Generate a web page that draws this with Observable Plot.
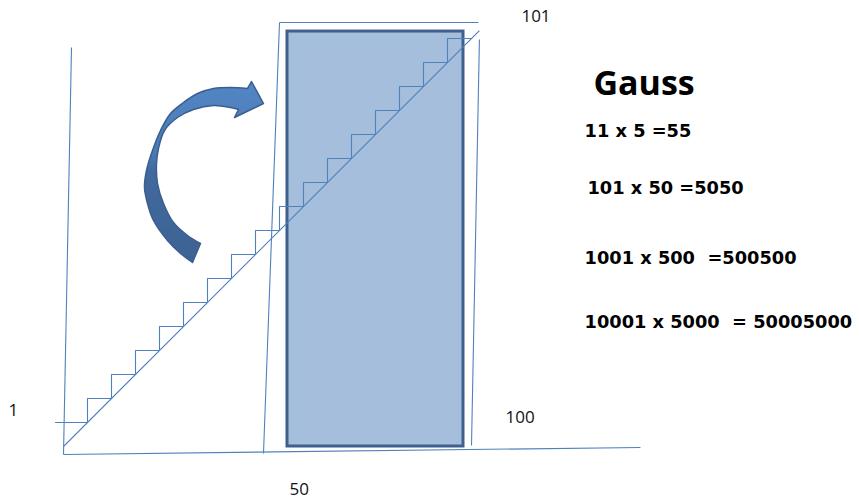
<!DOCTYPE html>
<html>
<head>
<meta charset="utf-8">
<script src="https://cdn.jsdelivr.net/npm/d3@7"></script>
<script src="https://cdn.jsdelivr.net/npm/@observablehq/plot@0.6"></script>
<style>
  html, body { margin: 0; padding: 0; background: #ffffff; }
  svg text { white-space: pre; }
</style>
</head>
<body>
<div id="chart"></div>
<script>
// Diagram units: one stair step = 1 unit in both directions, origin at the foot of the diagonal.
const steps = [1, 2, 3, 4, 5, 6, 7, 8, 9, 10, 11, 12, 13, 14, 15, 16];
const stairStartX = -0.333;

const guideLines = [
  { name: "left axis",    x1: 0,     y1: -0.333, x2: 0.333,  y2: 16.625 },
  { name: "bottom axis",  x1: 0,     y1: -0.333, x2: 24.04,  y2: -0.04 },
  { name: "diagonal",     x1: 0,     y1: 0,      x2: 17.33,  y2: 17.33 },
  { name: "frame left",   x1: 8.333, y1: -0.292, x2: 9,      y2: 17.667 },
  { name: "frame top",    x1: 9,     y1: 17.667, x2: 17.29,  y2: 17.667 },
  { name: "frame right",  x1: 17.33, y1: 16.96,  x2: 17,     y2: 0.04 }
];

const bars = [ { x1: 9.333, x2: 16.667, y1: 0, y2: 17.29 } ];

// Curved block arrow outline (corner points doubled to keep them sharp)
const arrowX = [8.333, 8.333, 7.833, 7.833, 7.667, 7.667, 6.958, 6.25, 5.583, 5.0, 4.458, 4.042, 3.708, 3.458, 3.375, 3.5, 3.75, 4.333, 4.875, 5.375, 5.375,
                5.708, 5.708, 5.167, 4.583, 4.167, 3.917, 3.875, 3.958, 4.208, 4.75, 5.417, 6.25, 6.958, 7.292, 7.292, 7.125, 7.125, 8.333, 8.333];
const arrowY = [14.292, 14.292, 15.208, 15.208, 14.917, 14.917, 14.958, 14.917, 14.708, 14.333, 13.875, 13.167, 12.333, 11.5, 10.792, 10.125, 9.417, 8.583, 8.042, 7.667, 7.667,
                8.458, 8.458, 8.792, 9.333, 10.125, 10.958, 11.792, 12.417, 13.167, 13.708, 14.042, 14.208, 14.125, 14.042, 14.042, 13.708, 13.708, 14.292, 14.292];

const axisLabels = ["1", "101", "100", "50"];
const axisLabelX = [-2.29, 19.08, 18.42, 9.42];
const axisLabelY = [1.29, 17.67, 1.0, -2.0];

const titleText = "Gauss";
const equations = ["11 x 5 =55", "101 x 50 =5050", "1001 x 500  =500500", "10001 x 5000  = 50005000"];
const equationX = [21.71, 21.83, 21.71, 21.71];
const equationY = [12.875, 10.5, 7.625, 4.958];

// Build tables from the arrays
const stairPath = [{ x: stairStartX, y: 1 }];
for (const k of steps) { stairPath.push({ x: k, y: k }); stairPath.push({ x: k, y: k + 1 }); stairPath.push({ x: k + 1, y: k + 1 }); }

const arrow = arrowX.map((x, i) => ({ x, y: arrowY[i] }));
const axisLabelData = axisLabels.map((t, i) => ({ t, x: axisLabelX[i], y: axisLabelY[i] }));
const equationData = equations.map((t, i) => ({ t, x: equationX[i], y: equationY[i] }));

const blue = "#4F81BD";
const svg = Plot.plot({
  width: 859,
  height: 502,
  margin: 0,
  x: { domain: [-2.625, 33.1667], range: [0, 859], axis: null },
  y: { domain: [-2.3333, 18.5833], range: [502, 0], axis: null },
  style: { background: "#ffffff", fontFamily: "'Open Sans', sans-serif" },
  marks: [
    Plot.rect(bars, { x1: "x1", x2: "x2", y1: "y1", y2: "y2", fill: "#A4BEDC", stroke: "#3F5F8D", strokeWidth: 3 }),
    Plot.link(guideLines, { x1: "x1", y1: "y1", x2: "x2", y2: "y2", stroke: blue, strokeWidth: 1.1 }),
    Plot.line(stairPath, { x: "x", y: "y", stroke: blue, strokeWidth: 1.1, curve: "linear" }),
    Plot.line(arrow, { x: "x", y: "y", fill: "url(#arrowGrad)", stroke: "#3B5E8E", strokeWidth: 1.5, curve: "catmull-rom" }),
    Plot.text(axisLabelData, { x: "x", y: "y", text: "t", textAnchor: "start", lineAnchor: "bottom", fontSize: 17, fill: "#111111" }),
    Plot.text([titleText], { x: [22.08], y: [14.625], text: d => d, textAnchor: "start", lineAnchor: "bottom", fontSize: 34, fontWeight: "bold", fill: "#000000" }),
    Plot.text(equationData, { x: "x", y: "y", text: "t", textAnchor: "start", lineAnchor: "bottom", fontSize: 17.8, fontWeight: "bold", fill: "#000000", fontFamily: "'DejaVu Sans', sans-serif" })
  ]
});

const defs = d3.select(svg).insert("defs", ":first-child");
const grad = defs.append("linearGradient").attr("id", "arrowGrad").attr("x1", 0).attr("y1", 0).attr("x2", 0).attr("y2", 1);
grad.append("stop").attr("offset", "0").attr("stop-color", "#5286C4");
grad.append("stop").attr("offset", "0.4").attr("stop-color", "#4A7AB5");
grad.append("stop").attr("offset", "0.5").attr("stop-color", "#41699D");
grad.append("stop").attr("offset", "1").attr("stop-color", "#3D6394");

document.getElementById("chart").appendChild(svg);
</script>
</body>
</html>
